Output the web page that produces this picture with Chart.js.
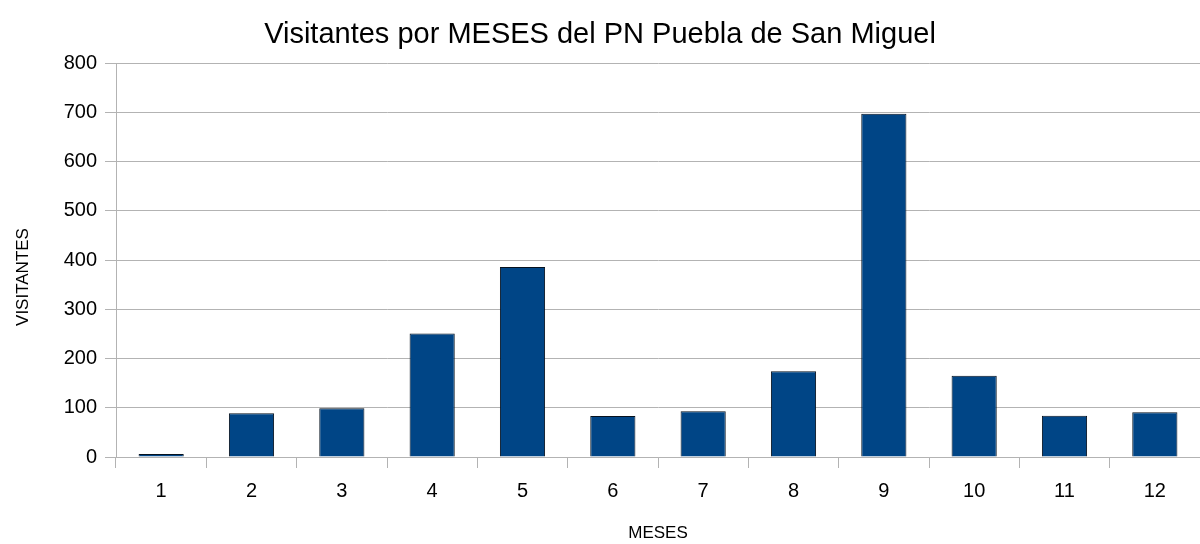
<!DOCTYPE html>
<html>
<head>
<meta charset="utf-8">
<script src="https://cdn.jsdelivr.net/npm/chart.js@4"></script>
<style>
  html, body { margin: 0; padding: 0; background: #fff; }
</style>
</head>
<body>
<canvas id="visitChart" width="1200" height="544"></canvas>
<script>
// ===== DATOS =====
const meses = ['1', '2', '3', '4', '5', '6', '7', '8', '9', '10', '11', '12'];
const visitantes = [6, 89, 99, 251, 386, 83, 93, 174, 697, 165, 84, 91];

const FONT = 'Liberation Sans, Arial, sans-serif';
const GRID = '#b3b3b3';

// titulo del eje Y, centrado en la altura del grafico como en el original
const yTitlePlugin = {
  id: 'yTitle',
  afterDraw(chart) {
    const c = chart.ctx;
    c.save();
    c.translate(23, chart.height / 2 + 5);
    c.rotate(-Math.PI / 2);
    c.font = '17px ' + FONT;
    c.fillStyle = '#000';
    c.textAlign = 'center';
    c.textBaseline = 'middle';
    c.fillText('VISITANTES', 0, 0);
    c.restore();
  }
};

// ===== BAR CHART =====
const ctx = document.getElementById('visitChart').getContext('2d');
new Chart(ctx, {
  type: 'bar',
  data: {
    labels: meses,
    datasets: [{
      label: 'Visitantes',
      data: visitantes,
      backgroundColor: '#004586',
      borderColor: '#06121f',
      borderWidth: 1,
      barPercentage: 0.5,
      categoryPercentage: 1
    }]
  },
  options: {
    responsive: false,
    animation: false,
    layout: { padding: 0 },
    plugins: {
      legend: { display: false },
      tooltip: { enabled: false },
      title: {
        display: true,
        text: 'Visitantes por MESES del PN Puebla de San Miguel',
        color: '#000',
        font: { family: FONT, size: 29, weight: 'normal' },
        padding: { top: 17.6, bottom: 10.6 }
      }
    },
    scales: {
      x: {
        afterFit: (scale) => { scale.height = 87; },
        grid: { drawOnChartArea: false, drawTicks: true, tickLength: 11, color: GRID },
        border: { color: GRID },
        ticks: { color: '#000', padding: 11, font: { family: FONT, size: 20 } },
        title: {
          display: true,
          text: 'MESES',
          color: '#000',
          font: { family: FONT, size: 17 },
          padding: { top: 10, bottom: 0 }
        }
      },
      y: {
        min: 0,
        max: 800,
        afterFit: (scale) => { scale.width = 116; },
        grid: { color: GRID, tickLength: 11 },
        border: { color: GRID },
        ticks: { stepSize: 100, color: '#000', padding: 8, font: { family: FONT, size: 20 } }
      }
    }
  },
  plugins: [yTitlePlugin]
});
</script>
</body>
</html>
